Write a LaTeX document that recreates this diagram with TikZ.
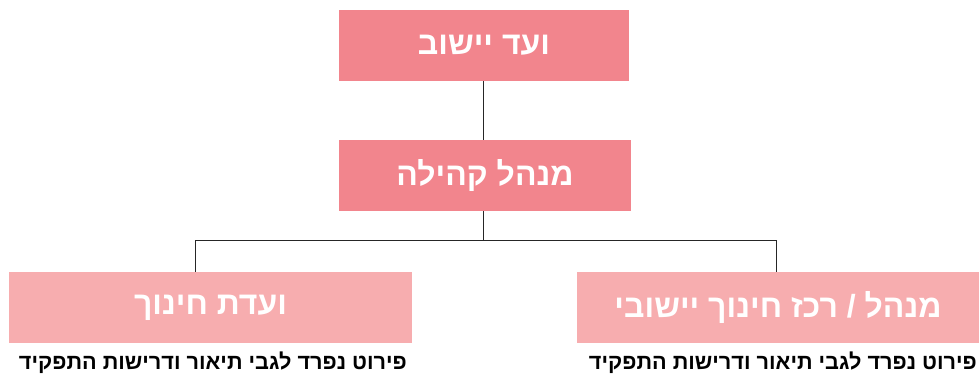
\documentclass[tikz,border=0pt]{standalone}
\usepackage{fontspec}
\newfontfamily\hebfont[Script=Hebrew]{Liberation Sans}
\TeXXeTstate=1
\definecolor{darkpink}{HTML}{F2858D}
\definecolor{lightpink}{HTML}{F7ADAF}
\tikzset{
	topbox/.style={fill=darkpink, text=white, minimum height=71pt, inner sep=0pt,
		font=\hebfont\bfseries\fontsize{32}{36}\selectfont},
	lowbox/.style={topbox, fill=lightpink},
	note/.style={anchor=east, inner sep=0pt, font=\hebfont\bfseries\fontsize{21.7}{26}\selectfont},
	link/.style={draw=black!85, line width=1pt}
}
\begin{document}
\begin{tikzpicture}[x=1pt, y=-1pt]
	\fill[white] (0,0) rectangle (979,374);
	\node[topbox, minimum width=290pt] (vaad)     at (484,45.5)   {\beginR ועד יישוב\endR};
	\node[topbox, minimum width=292pt] (menahel)  at (485,175.5)  {\beginR מנהל קהילה\endR};
	\node[lowbox, minimum width=403pt] (vaadhin)  at (210.5,307.5) {\beginR ועדת חינוך\endR};
	\node[lowbox, minimum width=402pt] (rakaz)    at (778,307.5)  {\beginR מנהל / רכז חינוך יישובי\endR};
	\node[note] (noteleft)  at (407,363) {\beginR פירוט נפרד לגבי תיאור ודרישות התפקיד\endR};
	\node[note] (noteright) at (977,363) {\beginR פירוט נפרד לגבי תיאור ודרישות התפקיד\endR};
	%kanten
	\coordinate (split) at (483,240.5);
	\coordinate (lj) at (195,240.5);
	\coordinate (rj) at (776,240.5);
	\draw[link] (vaad.south -| split) -- (menahel.north -| split);
	\draw[link] (menahel.south -| split) -- (split);
	\draw[link] (lj |- vaadhin.north) -- (lj) -- (rj) -- (rj |- rakaz.north);
\end{tikzpicture}
\end{document}
